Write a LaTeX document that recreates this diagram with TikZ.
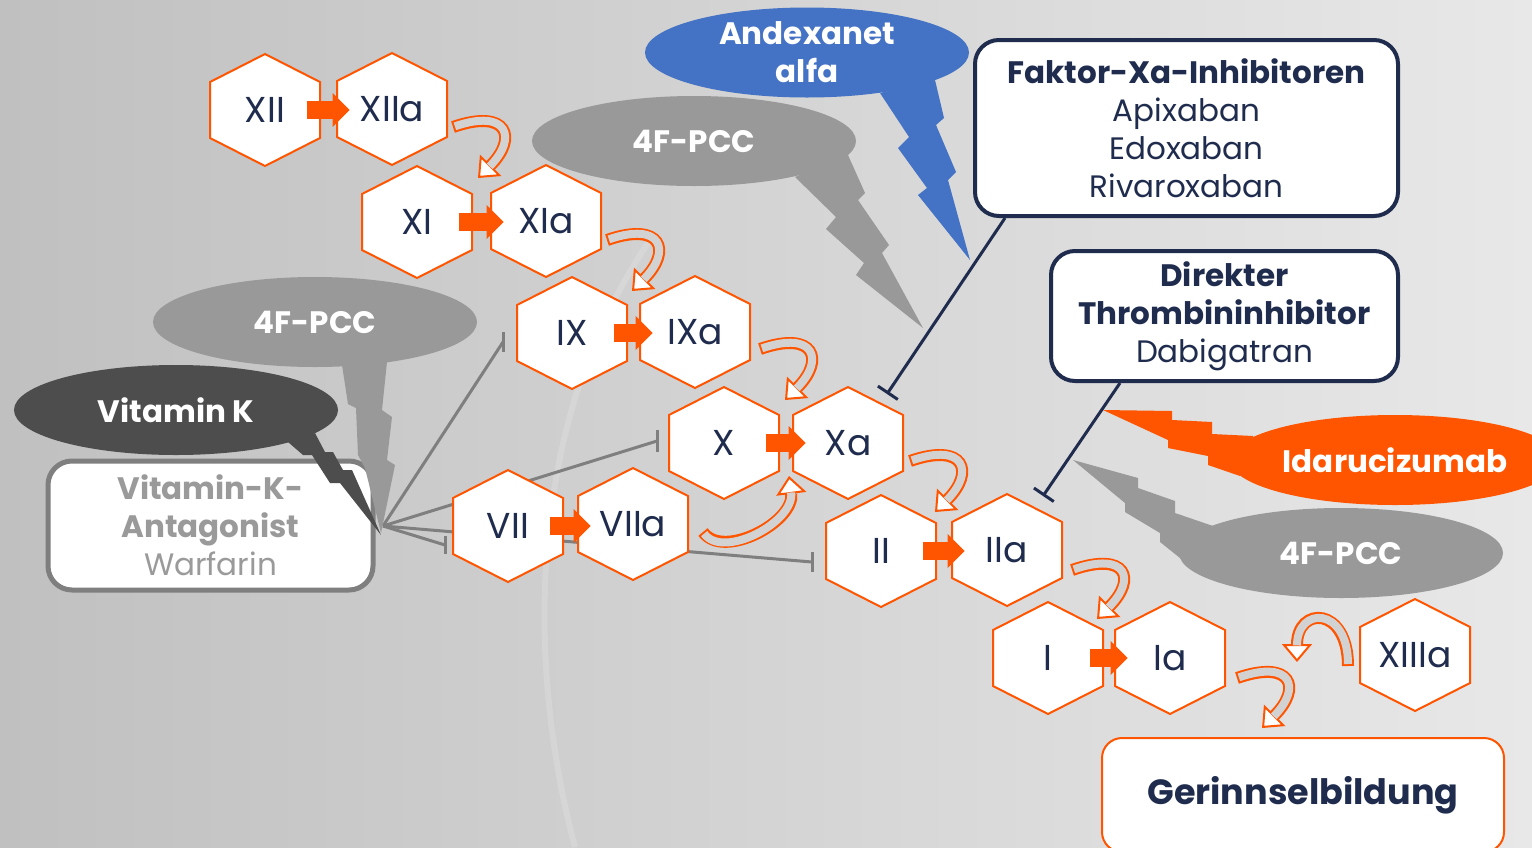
\documentclass[tikz,border=0pt]{standalone}
\usepackage{fontspec}
\setmainfont{Poppins}
\usetikzlibrary{shapes.geometric,arrows.meta,calc}
\definecolor{navy}{HTML}{1F2C4E}
\definecolor{orng}{HTML}{FF5500}
\definecolor{blu}{HTML}{4472C4}
\definecolor{gryell}{HTML}{999999}
\definecolor{dgry}{HTML}{4D4D4D}
\definecolor{lnGrey}{HTML}{7F7F7F}
\definecolor{vkatext}{HTML}{9A9A9A}
\definecolor{bodyfill}{HTML}{D2D2D2}
\definecolor{bgL}{HTML}{C0C0C0}
\definecolor{bgR}{HTML}{E8E8E8}
\pgfdeclarelayer{bg}
\pgfdeclarelayer{lines}
\pgfsetlayers{bg,lines,main}
\tikzset{
  hexline/.style={draw=orng, fill=white, line width=1pt, line join=miter},
  hexlbl/.style={inner sep=0pt, minimum width=42pt, minimum height=20pt, text=navy,
    font=\fontsize{18}{20}\selectfont},
  blockarr/.style={draw=orng, line width=9pt, -{Triangle[length=8.5pt,width=17pt,line width=0pt]}},
  curvout/.style={draw=orng, line width=6pt, -{Triangle[length=9pt,width=15pt,line width=1pt,fill=white]}},
  curvin/.style={draw=bodyfill, line width=4pt, shorten >=8.3pt, shorten <=1pt},
  callout/.style={ellipse, inner sep=0pt, minimum width=162pt, minimum height=45pt,
    text=white, align=center, font=\bfseries\fontsize{15.5}{19}\selectfont},
  infobox/.style={draw=navy, fill=white, line width=2pt, rounded corners=12pt, align=center,
    text=navy, inner sep=0pt, font=\fontsize{15.5}{19}\selectfont},
  greyln/.style={draw=lnGrey, line width=1.5pt},
  navyln/.style={draw=navy, line width=1.5pt, -{Bar[width=12pt,line width=1.5pt]}},
}
\newcommand{\hexa}[4]{%
  \filldraw[hexline] (#2,#3) ++(0,-56) -- ++(55,28) -- ++(0,56) -- ++(-55,28) -- ++(-55,-28) -- ++(0,-56) -- cycle;
  \node[hexlbl] (#1) at (#2,#3) {#4};}
\newcommand{\curvarr}[4]{%
  \draw[curvout] (#1) .. controls #2 and #3 .. (#4);
  \draw[curvin] (#1) .. controls #2 and #3 .. (#4);}
\begin{document}
\begin{tikzpicture}[x=0.5pt,y=-0.5pt]
\useasboundingbox (0,0) rectangle (1532,847);
\begin{pgfonlayer}{bg}
  \shade[left color=bgL, right color=bgR] (0,0) rectangle (1532,847);
  \draw[white, opacity=.15, line width=3pt] (650,240) .. controls (520,430) and (530,680) .. (575,847);
\end{pgfonlayer}

% boxes
\node[infobox, minimum width=211.5pt, minimum height=88pt] (faktor) at (1186.5,128)
  {{\bfseries Faktor-Xa-Inhibitoren}\\Apixaban\\Edoxaban\\Rivaroxaban};
\node[infobox, minimum width=173.5pt, minimum height=65pt] (direkt) at (1224.5,316)
  {{\bfseries Direkter}\\{\bfseries Thrombininhibitor}\\Dabigatran};
\node[infobox, draw=lnGrey, line width=2.5pt, text=vkatext, minimum width=162.5pt, minimum height=64.5pt] (vka) at (210.5,525.5)
  {{\bfseries Vitamin-K-}\\{\bfseries Antagonist}\\Warfarin};
\node[infobox, draw=orng, line width=1pt, rounded corners=10pt, minimum width=201pt, minimum height=57pt,
  font=\bfseries\fontsize{17.5}{20}\selectfont] (gerinn) at (1303,795) {Gerinnselbildung};

% hexagons
\hexa{XII}{265}{110}{XII}
\hexa{XIIa}{392}{109}{XIIa}
\hexa{XI}{417}{222}{XI}
\hexa{XIa}{546}{221}{XIa}
\hexa{IX}{572}{333}{IX}
\hexa{IXa}{695}{332}{IXa}
\hexa{X}{724}{443}{X}
\hexa{Xa}{848}{443}{Xa}
\hexa{VII}{508}{526}{VII}
\hexa{VIIa}{633}{524}{VIIa}
\hexa{II}{881}{551}{II}
\hexa{IIa}{1007}{550}{IIa}
\hexa{I}{1048}{658}{I}
\hexa{Ia}{1170}{658}{Ia}
\hexa{XIIIa}{1415}{655}{XIIIa}

% block arrows
\foreach \a/\b in {XII/XIIa, XI/XIa, IX/IXa, X/Xa, VII/VIIa, II/IIa, I/Ia}
  \draw[blockarr] (\a.east) -- (\a.east -| \b.west);

% curved arrows
\coordinate (c1s) at (453,127);  \coordinate (c1e) at (478,178);
\coordinate (c2s) at (607,240);  \coordinate (c2e) at (632,291);
\coordinate (c3s) at (760,349);  \coordinate (c3e) at (785,400);
\coordinate (c4s) at (910,461);  \coordinate (c4e) at (935,512);
\coordinate (c5s) at (1072,570); \coordinate (c5e) at (1097,619);
\coordinate (c6s) at (1237,678); \coordinate (c6e) at (1262,728);
\coordinate (c7s) at (1348,666); \coordinate (c7e) at (1297,662);
\coordinate (c8s) at (703,532);  \coordinate (c8e) at (789,476);
\curvarr{c1s}{+(55,-19)}{+(40,-40)}{c1e}
\curvarr{c2s}{+(55,-19)}{+(40,-40)}{c2e}
\curvarr{c3s}{+(55,-19)}{+(40,-40)}{c3e}
\curvarr{c4s}{+(55,-19)}{+(40,-40)}{c4e}
\curvarr{c5s}{+(55,-19)}{+(40,-40)}{c5e}
\curvarr{c6s}{+(55,-19)}{+(40,-40)}{c6e}
\curvarr{c7s}{+(0,-60)}{+(0,-56)}{c7e}
\curvarr{c8s}{+(20,28)}{+(6,46)}{c8e}

% grey inhibition lines (VKA)
\coordinate (vkaTip) at (383,526);
\coordinate (tIX) at (503,342);
\coordinate (tX) at (657,441);
\coordinate (tVII) at (445,545);
\coordinate (tII) at (812,562);
\begin{pgfonlayer}{lines}
  \draw[greyln] (vkaTip) -- (tIX);
  \draw[greyln] (tIX) +(0,-10) -- +(0,10);
  \draw[greyln] (vkaTip) -- (tX);
  \draw[greyln] (tX) +(0,-11) -- +(0,11);
  \draw[greyln] (vkaTip) -- (tVII);
  \draw[greyln] (tVII) +(0,-9) -- +(0,9);
  \draw[greyln] (vkaTip) -- (tII);
  \draw[greyln] (tII) +(0,-10) -- +(0,10);
\end{pgfonlayer}

% callouts
\node[callout, fill=blu] (andex) at (807,52.5) {Andexanet\\alfa};
\fill[blu] (880,93) -- (935,80) -- (944,118) -- (936,125) -- (956,172) -- (948,180) -- (970,260)
  -- (918,195) -- (927,188) -- (898,148) -- (909,137) -- cycle;
\node[callout, fill=gryell] (pccTop) at (694,141) {4F-PCC};
\fill[gryell] (795,177) -- (848,155) -- (865,193) -- (858,200) -- (889,245) -- (882,253) -- (923,328)
  -- (856,275) -- (864,263) -- (826,229) -- (836,217) -- cycle;
\node[callout, fill=gryell] (pccLeft) at (315,322) {4F-PCC};
\fill[gryell] (342,365) -- (348,404) -- (356,408) -- (358,455) -- (365,468) -- (381,533)
  -- (395,465) -- (387,460) -- (392,417) -- (382,410) -- (387,362) -- cycle;
\node[callout, fill=dgry] (vitK) at (176,410) {Vitamin K};
\fill[dgry] (288,442) -- (303,455) -- (312,455) -- (330,483) -- (340,483) -- (381,535)
  -- (352,470) -- (343,470) -- (333,452) -- (325,452) -- (315,433) -- cycle;
\node[callout, fill=orng, minimum width=165pt] (idaru) at (1395,460) {Idarucizumab};
\fill[orng] (1253,436) -- (1212,434) -- (1212,422) -- (1172,420) -- (1172,411) -- (1103,410)
  -- (1168,440) -- (1168,448) -- (1208,456) -- (1208,465) -- (1240,476) -- cycle;
\node[callout, fill=gryell] (pccRight) at (1341,553) {4F-PCC};
\fill[gryell] (1073,460) -- (1138,478) -- (1138,488) -- (1175,501) -- (1175,513) -- (1213,526)
  -- (1185,562) -- (1160,542) -- (1160,533) -- (1125,512) -- (1125,503) -- cycle;

% navy inhibition lines
\coordinate (fxEnd) at (887,394);
\coordinate (dtEnd) at (1043,496);
\draw[navyln] ($(faktor.south west)+(32,0)$) -- (fxEnd);
\draw[navyln] ($(direkt.south west)+(71,0)$) -- (dtEnd);
\end{tikzpicture}
\end{document}
